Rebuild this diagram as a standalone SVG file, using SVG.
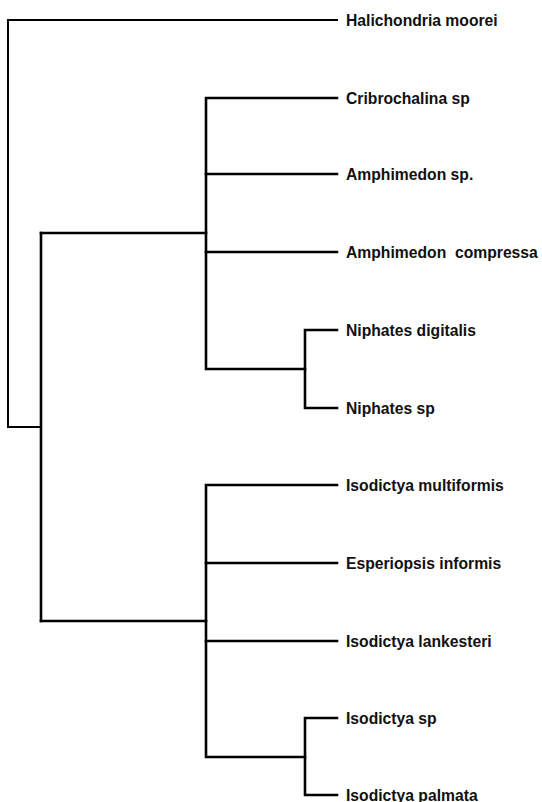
<svg xmlns="http://www.w3.org/2000/svg" width="542" height="802" viewBox="0 0 542 802">
<style>
.e{fill:none;stroke:#000;stroke-width:2.6;stroke-linecap:square;stroke-linejoin:miter}
.r{stroke-width:2}
.t{font-family:"Liberation Sans",Arial,sans-serif;font-weight:bold;font-size:15.7px;fill:#111;white-space:pre}
</style>
<rect width="542" height="802" fill="#fff"/>
<g id="connectors">
<path class="e r" d="M337,20 H8 V427 H41"/>
<path class="e" d="M41,233 V621"/>
<path class="e" d="M41,233 H206"/>
<path class="e" d="M337,98 H206 V369 H305"/>
<path class="e" d="M206,174 H337"/>
<path class="e" d="M206,252 H337"/>
<path class="e" d="M337,330 H305 V408 H337"/>
<path class="e" d="M41,621 H206"/>
<path class="e" d="M337,485 H206 V757 H305"/>
<path class="e" d="M206,563 H337"/>
<path class="e" d="M206,641 H337"/>
<path class="e" d="M337,718 H305 V795 H337"/>
</g>
<g id="n1"><text class="t" x="346" y="26">Halichondria moorei</text></g>
<g id="n2"><text class="t" x="346" y="104">Cribrochalina sp</text></g>
<g id="n3"><text class="t" x="346" y="180">Amphimedon sp.</text></g>
<g id="n4"><text class="t" x="346" y="258" xml:space="preserve">Amphimedon  compressa</text></g>
<g id="n5"><text class="t" x="346" y="336">Niphates digitalis</text></g>
<g id="n6"><text class="t" x="346" y="414">Niphates sp</text></g>
<g id="n7"><text class="t" x="346" y="491">Isodictya multiformis</text></g>
<g id="n8"><text class="t" x="346" y="569">Esperiopsis informis</text></g>
<g id="n9"><text class="t" x="346" y="647">Isodictya lankesteri</text></g>
<g id="n10"><text class="t" x="346" y="724">Isodictya sp</text></g>
<g id="n11"><text class="t" x="346" y="801">Isodictya palmata</text></g>
</svg>
